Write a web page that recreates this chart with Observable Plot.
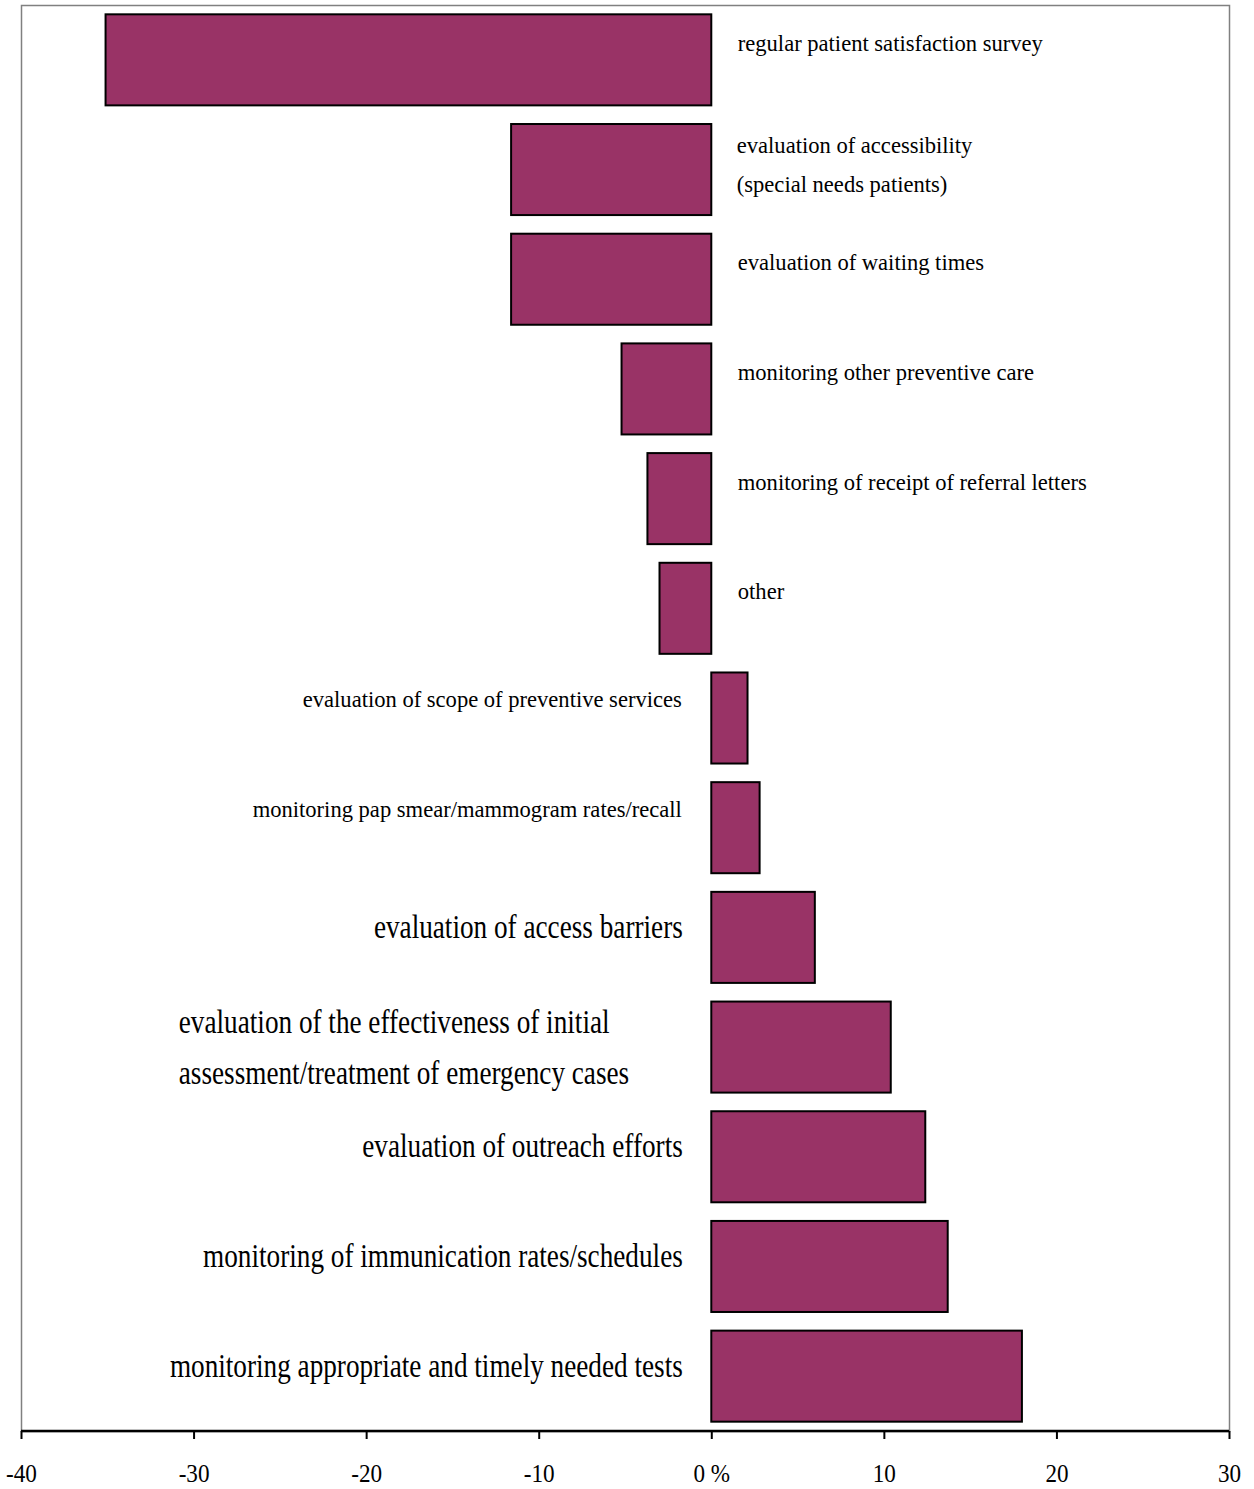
<!DOCTYPE html>
<html>
<head>
<meta charset="utf-8">
<script src="https://cdn.jsdelivr.net/npm/d3@7"></script>
<script src="https://cdn.jsdelivr.net/npm/@observablehq/plot@0.6"></script>
<style>
  html, body { margin: 0; padding: 0; background: #fff; }
  #chart svg { display: block; }
  #chart svg text { font-family: 'Liberation Serif', 'Times New Roman', serif; }
</style>
</head>
<body>
<div id="chart"></div>
<script>
// Categories (top to bottom) and their values (%)
const categories = [
  "regular patient satisfaction survey",
  "evaluation of accessibility\n(special needs patients)",
  "evaluation of waiting times",
  "monitoring other preventive care",
  "monitoring of receipt of referral letters",
  "other",
  "evaluation of scope of preventive services",
  "monitoring pap smear/mammogram rates/recall",
  "evaluation of access barriers",
  "evaluation of the effectiveness of initial\nassessment/treatment of emergency cases",
  "evaluation of outreach efforts",
  "monitoring of immunication rates/schedules",
  "monitoring appropriate and timely needed tests"
];
const values = [-35.1, -11.6, -11.6, -5.2, -3.7, -3.0, 2.1, 2.8, 6.0, 10.4, 12.4, 13.7, 18.0];
const tickValues = [-40, -30, -20, -10, 0, 10, 20, 30];
const tickLabels = ["-40", "-30", "-20", "-10", "0 %", "10", "20", "30"];

const data = categories.map((c, i) => ({label: c, value: values[i], i}));
const isMulti = d => d.label.includes("\n");
const negSingle = data.filter(d => d.value < 0 && !isMulti(d));
const negMulti = data.filter(d => d.value < 0 && isMulti(d));
const posSmall = data.filter(d => d.value >= 0 && d.i < 8);
const posBig = data.filter(d => d.value >= 0 && d.i >= 8 && !isMulti(d));
const posMulti = data.filter(d => d.value >= 0 && d.i >= 8 && isMulti(d));

const font = "'Liberation Serif', 'Times New Roman', serif";
const SMALL = 24, BIG = 34;

const chart = Plot.plot({
  width: 1254,
  height: 1489,
  marginTop: 5,
  marginBottom: 58,
  marginLeft: 21,
  marginRight: 25,
  style: {fontFamily: font, background: "#fff", overflow: "visible"},
  x: {domain: [-40, 30], label: null},
  y: {domain: categories, paddingInner: 0.17, paddingOuter: 0.085, round: false, axis: null},
  marks: [
    Plot.frame({stroke: "#808080", strokeWidth: 1.5}),
    Plot.barX(data, {x: "value", y: "label", fill: "#993366", stroke: "#000", strokeWidth: 2}),
    Plot.text(negSingle, {x: 0, y: "label", text: "label", textAnchor: "start", dx: 26, dy: -17,
      fontSize: SMALL, fontFamily: font, fill: "#000", className: "lbl-small"}),
    Plot.text(negMulti, {x: 0, y: "label", text: "label", textAnchor: "start", dx: 25, dy: -10,
      fontSize: SMALL, fontFamily: font, lineHeight: 1.6, fill: "#000", className: "lbl-small"}),
    Plot.text(posSmall, {x: 0, y: "label", text: "label", textAnchor: "end", dx: -30, dy: -19,
      fontSize: SMALL, fontFamily: font, fill: "#000", className: "lbl-small"}),
    Plot.text(posBig, {x: 0, y: "label", text: "label", textAnchor: "end", dx: -29, dy: -11,
      fontSize: BIG, fontFamily: font, fill: "#000", className: "lbl-big"}),
    Plot.text(posMulti, {x: 0, y: "label", text: "label", textAnchor: "start", dx: -533, dy: -5,
      fontSize: BIG, fontFamily: font, lineHeight: 1.49, fill: "#000", className: "lbl-big"}),
    Plot.axisX({ticks: tickValues, tickFormat: d => tickLabels[tickValues.indexOf(d)],
      label: null, tickSize: 8, tickPadding: 24, fontSize: 26, fontFamily: font,
      stroke: "#000", strokeWidth: 2})
  ]
});

// x-axis baseline
const xs = chart.scale("x");
d3.select(chart).append("line")
  .attr("x1", xs.apply(-40)).attr("x2", xs.apply(30))
  .attr("y1", 1489 - 58).attr("y2", 1489 - 58)
  .attr("stroke", "#000").attr("stroke-width", 2.5);

document.getElementById("chart").appendChild(chart);

// condense glyphs horizontally (narrow Times-like look of the original)
function condense(sel, k) {
  sel.each(function() {
    const spans = this.querySelectorAll("tspan");
    const targets = spans.length ? Array.from(spans) : [this];
    targets.forEach(t => {
      const w = t.getComputedTextLength();
      if (w > 0) {
        t.setAttribute("textLength", (w * k).toFixed(1));
        t.setAttribute("lengthAdjust", "spacingAndGlyphs");
      }
    });
  });
}
condense(d3.select(chart).selectAll("g.lbl-small text"), 0.94);
condense(d3.select(chart).selectAll("g.lbl-big text"), 0.80);
condense(d3.select(chart).selectAll("g[aria-label='x-axis tick label'] text"), 0.89);
</script>
</body>
</html>
